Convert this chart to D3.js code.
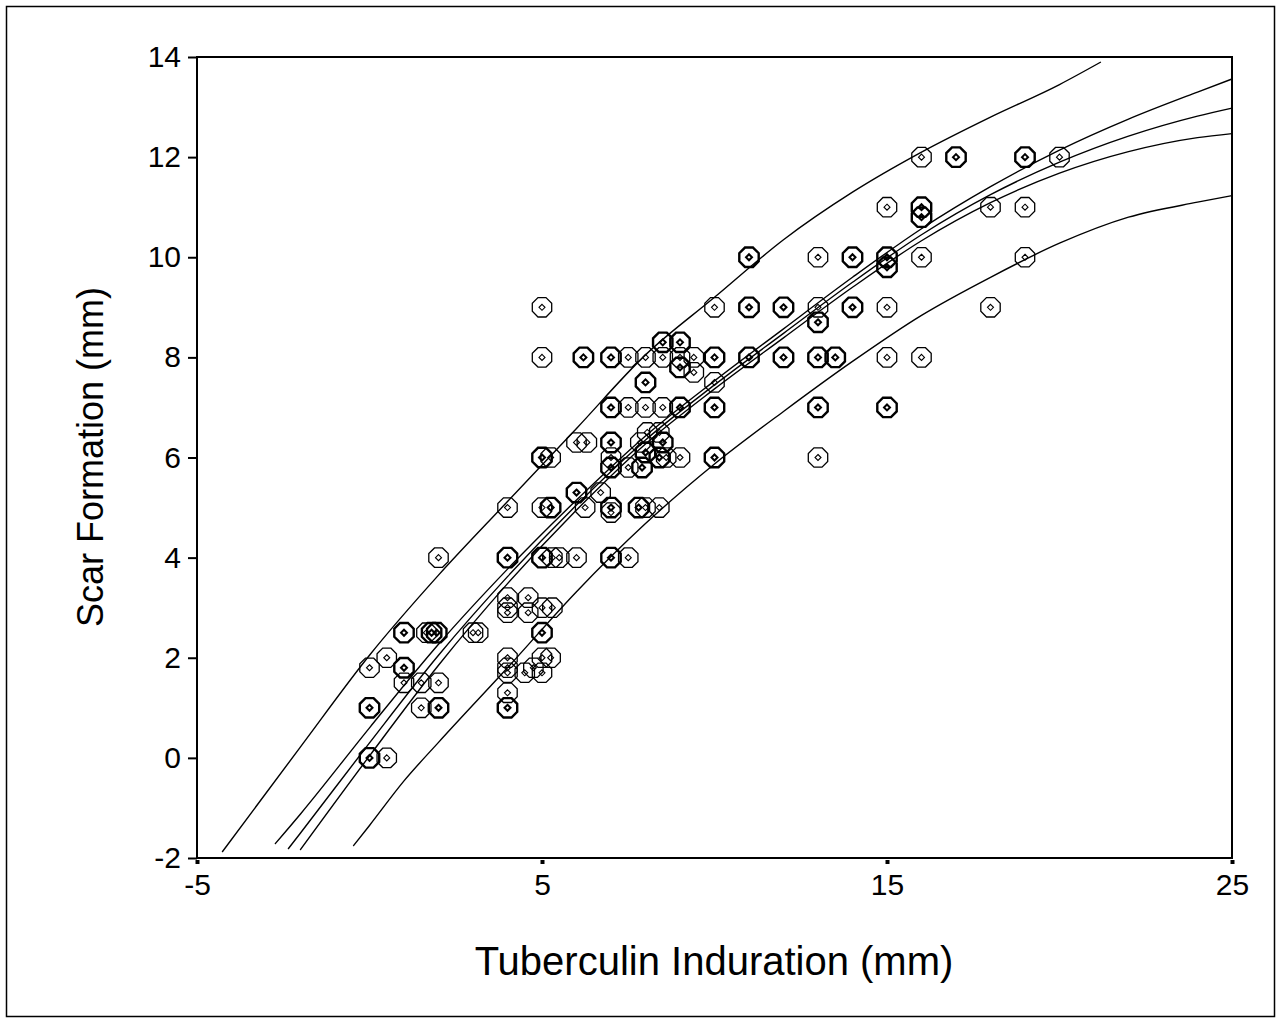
<!DOCTYPE html>
<html>
<head>
<meta charset="utf-8">
<script src="https://cdn.jsdelivr.net/npm/d3@7"></script>
<style>
  html, body { margin: 0; padding: 0; background: #fff; }
  svg { display: block; font-family: "Liberation Sans", Arial, sans-serif; }
</style>
</head>
<body>
<svg id="chart" width="1281" height="1023"></svg>
<script>
// tick values
const xTicks = [-5, 5, 15, 25];
const yTicks = [-2, 0, 2, 4, 6, 8, 10, 12, 14];

// observed points: [induration, scar, count]
const points = [
  [0, 0, 2], [0.5, 0, 1], [0, 1, 2], [0, 1.8, 1], [0.5, 2, 1],
  [1, 2.5, 2], [1, 1.8, 2], [1, 1.5, 1], [1.5, 1.5, 1], [1.5, 1, 1],
  [1.65, 2.5, 1], [1.8, 2.5, 2], [1.95, 2.5, 2], [2, 4, 1], [2, 1.5, 1], [2, 1, 2],
  [3, 2.5, 1], [3.15, 2.5, 1],
  [4, 5, 1], [4, 4, 2], [4, 3.2, 1], [4, 3, 1], [4, 2.9, 1], [4, 2, 1], [4, 1.8, 1],
  [4, 1.7, 1], [4, 1.3, 1], [4, 1, 2],
  [4.5, 1.7, 1], [4.6, 3.2, 1], [4.6, 2.9, 1], [4.75, 1.8, 1],
  [5, 9, 1], [5, 8, 1], [5, 6, 2], [5, 5, 1], [5, 4, 2], [5, 3, 1], [5, 2.5, 2],
  [5, 2, 1], [5, 1.7, 1],
  [5.25, 6, 1], [5.25, 5, 2], [5.3, 4, 1], [5.3, 3, 1], [5.25, 2, 1], [5.5, 4, 1],
  [6, 6.3, 1], [6, 5.3, 2], [6, 4, 1], [6.2, 8, 2], [6.25, 5, 1], [6.3, 6.3, 1],
  [6.7, 5.3, 1],
  [7, 8, 2], [7, 7, 2], [7, 6.3, 2], [7, 6, 1], [7, 5.8, 2], [7, 5, 2], [7, 4.9, 1], [7, 4, 2],
  [7.5, 8, 1], [7.5, 7, 1], [7.5, 4, 1], [7.5, 5.8, 1],
  [7.8, 5, 2], [7.85, 6.3, 1], [7.9, 5.8, 2], [8, 8, 1], [8, 7, 1], [8, 7.5, 2],
  [8, 6.1, 2], [8, 5, 1], [8.05, 6.5, 1],
  [8.5, 8.3, 2], [8.5, 8, 1], [8.5, 7, 1], [8.4, 6.5, 1], [8.5, 6.3, 2], [8.4, 6, 2],
  [8.6, 6, 1], [8.4, 5, 1],
  [9, 8.3, 2], [9, 8, 1], [9, 7.8, 2], [9, 7, 2], [9, 6, 1], [9.4, 8, 1], [9.4, 7.7, 1],
  [10, 9, 1], [10, 8, 2], [10, 7.5, 1], [10, 7, 2], [10, 6, 2],
  [11, 10, 2], [11, 9, 2], [11, 8, 2],
  [12, 9, 2], [12, 8, 2],
  [13, 10, 1], [13, 9, 1], [13, 8.7, 2], [13, 8, 2], [13, 7, 2], [13, 6, 1],
  [13.5, 8, 2], [14, 10, 2], [14, 9, 2],
  [15, 11, 1], [15, 10, 2], [15, 9.8, 2], [15, 9, 1], [15, 8, 1], [15, 7, 2],
  [16, 12, 1], [16, 11, 2], [16, 10.8, 2], [16, 10, 1], [16, 8, 1],
  [17, 12, 2], [18, 11, 1], [18, 9, 1],
  [19, 12, 2], [19, 11, 1], [19, 10, 1], [20, 12, 1]
];

// fitted curve, confidence band and prediction band
const fitCurve = [
  [-2.36, -1.82], [-2, -1.5], [0, 0.3], [2, 2.05], [4, 3.62], [6, 5.05], [8, 6.35],
  [10, 7.45], [12, 8.48], [14, 9.5], [16, 10.45], [18, 11.25], [20, 11.9],
  [22, 12.42], [24, 12.82], [25, 12.98]
];
const ciUpper = [
  [-2.74, -1.72], [-2, -1.12], [0, 0.6], [2, 2.27], [4, 3.77], [6, 5.15], [8, 6.43],
  [10, 7.53], [12, 8.57], [14, 9.6], [16, 10.57], [18, 11.41], [20, 12.14],
  [22, 12.76], [24, 13.3], [25, 13.56]
];
const ciLower = [
  [-2.01, -1.84], [0, 0.04], [2, 1.85], [4, 3.48], [6, 4.95], [8, 6.27], [10, 7.37],
  [12, 8.39], [14, 9.4], [16, 10.33], [18, 11.09], [20, 11.68], [22, 12.11],
  [24, 12.39], [25, 12.47]
];
const piUpper = [
  [-4.27, -1.88], [-2, 0.22], [0, 2.05], [2, 3.65], [4, 5.12], [6, 6.58], [8, 8.05],
  [10, 9.2], [12, 10.35], [14, 11.3], [16, 12.1], [18, 12.8], [20, 13.45], [21.2, 13.9]
];
const piLower = [
  [-0.47, -1.76], [0, -1.35], [1, -0.46], [2, 0.31], [4, 1.8], [6, 3.32], [8, 4.68],
  [10, 5.87], [12, 6.92], [14, 7.92], [16, 8.84], [18, 9.6], [20, 10.28],
  [22, 10.8], [24, 11.1], [25, 11.23]
];

const svg = d3.select('#chart');
const margin = { top: 57, right: 49, bottom: 165, left: 197 };
const width = +svg.attr('width') - margin.left - margin.right;
const height = +svg.attr('height') - margin.top - margin.bottom;
const font = '"Liberation Sans", Arial, sans-serif';

// outer frame
svg.append('rect')
  .attr('x', 6.5).attr('y', 6.5)
  .attr('width', 1268).attr('height', 1010)
  .attr('fill', 'none').attr('stroke', '#000').attr('stroke-width', 1.5);

const g = svg.append('g').attr('transform', `translate(${margin.left},${margin.top})`);

const x = d3.scaleLinear().domain([-5, 25]).range([0, width]);
const y = d3.scaleLinear().domain([-2, 14]).range([height, 0]);

// plot box
g.append('rect')
  .attr('width', width).attr('height', height)
  .attr('fill', 'none').attr('stroke', '#000').attr('stroke-width', 2);

const yAxis = g.append('g')
  .call(d3.axisLeft(y).tickValues(yTicks).tickSize(9).tickPadding(7).tickFormat(d => String(d)));
yAxis.select('.domain').remove();
yAxis.selectAll('line').attr('stroke', '#000').attr('stroke-width', 2);
yAxis.selectAll('text').attr('font-size', 30).attr('fill', '#000').attr('font-family', font);

const xAxis = g.append('g').attr('transform', `translate(0,${height + 2})`)
  .call(d3.axisBottom(x).tickValues(xTicks).tickSize(4).tickPadding(10).tickFormat(d => String(d)));
xAxis.select('.domain').remove();
xAxis.selectAll('line').attr('stroke', '#000').attr('stroke-width', 4);
xAxis.selectAll('text').attr('font-size', 30).attr('fill', '#000').attr('font-family', font);

// curves
const line = d3.line().x(p => x(p[0])).y(p => y(p[1])).curve(d3.curveMonotoneX);
[piUpper, ciUpper, fitCurve, ciLower, piLower].forEach(c => {
  g.append('path')
    .datum(c)
    .attr('d', line)
    .attr('fill', 'none')
    .attr('stroke', '#000')
    .attr('stroke-width', 1.4);
});

// markers: octagon with a small diamond inside
const octagon = d3.lineRadial()
  .angle(d => d)
  .radius(10.5)
  .curve(d3.curveLinearClosed)(d3.range(8).map(i => Math.PI / 8 + i * Math.PI / 4));
const diamond = d3.lineRadial()
  .angle(d => d)
  .radius(3)
  .curve(d3.curveLinearClosed)(d3.range(4).map(i => i * Math.PI / 2));

const marks = g.append('g').selectAll('g')
  .data(points)
  .join('g')
  .attr('transform', d => `translate(${x(d[0])},${y(d[1])})`);
marks.append('path')
  .attr('d', octagon)
  .attr('fill', 'none')
  .attr('stroke', '#000')
  .attr('stroke-width', d => d[2] > 1 ? 2.4 : 1.3);
marks.append('path')
  .attr('d', diamond)
  .attr('fill', 'none')
  .attr('stroke', '#000')
  .attr('stroke-width', d => d[2] > 1 ? 2 : 1.1);

// axis titles
svg.append('text')
  .attr('transform', 'translate(103,457) rotate(-90)')
  .attr('text-anchor', 'middle')
  .attr('font-size', 36)
  .text('Scar Formation (mm)');
svg.append('text')
  .attr('x', 714).attr('y', 975)
  .attr('text-anchor', 'middle')
  .attr('font-size', 40)
  .text('Tuberculin Induration (mm)');
</script>
</body>
</html>
